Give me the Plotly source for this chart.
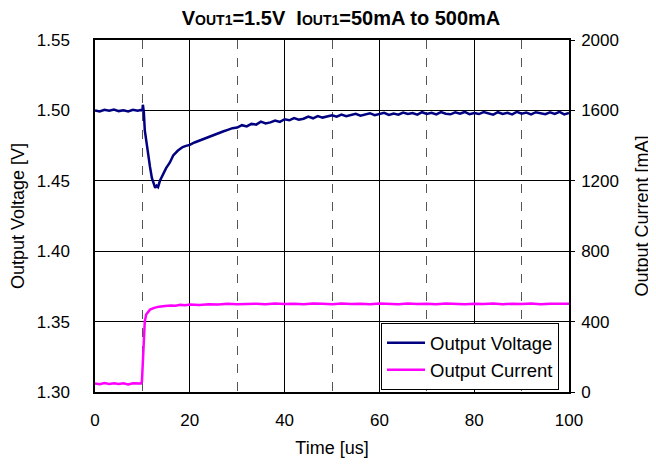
import plotly.graph_objects as go

# ---- data ----
time_v = [0, 1, 2, 3, 4, 5, 6, 7, 8, 9, 9.6, 10.0, 10.1, 10.3, 10.5, 10.8, 11.2, 11.6, 12.0, 12.4, 12.7, 13.0, 13.3,
          13.7, 14.3, 15.0, 15.8, 16.5, 17.5, 18.5, 19.2, 20, 21, 22, 23, 24, 25, 26, 27, 28, 29, 30,
          31, 32, 33, 34, 35, 36, 37, 38, 39, 40, 41, 42, 43, 44, 45, 46, 47, 48, 49, 50,
          51, 52, 53, 54, 55, 56, 57, 58, 59, 60, 61, 62, 63, 64, 65, 66, 67, 68, 69, 70,
          71, 72, 73, 74, 75, 76, 77, 78, 79, 80, 81, 82, 83, 84, 85, 86, 87, 88, 89, 90,
          91, 92, 93, 94, 95, 96, 97, 98, 99, 100]
voltage = [1.5000, 1.4992, 1.5004, 1.4998, 1.5006, 1.4995, 1.5001, 1.4993, 1.5005, 1.4997, 1.5003, 1.5000, 1.5040, 1.4990,
           1.4860, 1.4780, 1.4680, 1.4600, 1.4520, 1.4470, 1.4450, 1.4465, 1.4455,
           1.4500, 1.4540, 1.4590, 1.4630, 1.4680, 1.4715, 1.4740, 1.4748, 1.4755, 1.4772, 1.4785, 1.4800, 1.4815, 1.4828, 1.4842, 1.4850, 1.4862, 1.4874, 1.4878,
           1.4895, 1.4886, 1.4904, 1.4899, 1.4920, 1.4908, 1.4915, 1.4928, 1.4918, 1.4937, 1.4930, 1.4946, 1.4934, 1.4941, 1.4956, 1.4944, 1.4960, 1.4949, 1.4955, 1.4966,
           1.4955, 1.4970, 1.4959, 1.4965, 1.4976, 1.4962, 1.4971, 1.4980, 1.4966, 1.4975, 1.4983, 1.4968, 1.4978, 1.4970, 1.4985, 1.4974, 1.4981, 1.4970, 1.4987, 1.4975,
           1.4983, 1.4971, 1.4988, 1.4976, 1.4972, 1.4986, 1.4977, 1.4989, 1.4973, 1.4982, 1.4974, 1.4988, 1.4978, 1.4970, 1.4987, 1.4975, 1.4983, 1.4972, 1.4989, 1.4976,
           1.4984, 1.4971, 1.4987, 1.4978, 1.4973, 1.4986, 1.4975, 1.4989, 1.4972, 1.4982]

time_i = [0, 1, 2, 3, 4, 5, 6, 7, 8, 9, 9.7, 9.9, 10.1, 10.3, 10.5, 10.8, 11.2, 11.6, 12.5, 13.5, 14.8, 16, 17, 18, 19, 20,
          22, 24, 26, 28, 30, 32, 34, 36, 38, 40, 42, 44, 46, 48, 50, 52, 54, 56, 58, 60,
          62, 64, 66, 68, 70, 72, 74, 76, 78, 80, 82, 84, 86, 88, 90, 92, 94, 96, 98, 100]
current = [48, 44, 51, 46, 50, 45, 49, 43, 50, 47, 49, 60, 200, 330, 400, 440, 458, 468, 478, 485, 489, 492, 490, 495, 493, 497,
           495, 499, 497, 501, 498, 500, 502, 499, 503, 500, 502, 499, 503, 501, 499, 503, 500, 502, 499, 503,
           501, 498, 503, 500, 502, 499, 503, 501, 499, 502, 500, 503, 499, 502, 500, 503, 499, 502, 500, 501]

FONT = "Liberation Sans, Arial, sans-serif"

fig = go.Figure()
fig.add_trace(go.Scatter(x=time_v, y=voltage, mode="lines", name="Output Voltage",
                         line=dict(color="#000080", width=2.5)))
fig.add_trace(go.Scatter(x=time_i, y=current, mode="lines", name="Output Current",
                         line=dict(color="#FF00FF", width=2.5), yaxis="y2"))

W, H = 648, 458
L, R, T, B = 87, 87, 32, 74
fig.update_layout(
    width=W, height=H,
    margin=dict(l=L, r=R, t=T, b=B, autoexpand=False),
    paper_bgcolor="white", plot_bgcolor="white",
    font=dict(family=FONT, size=17, color="black"),
    title=dict(text="V<span style='font-size:14px'>OUT1</span>=1.5V  I<span style='font-size:14px'>OUT1</span>=50mA to 500mA",
               x=333 / W, xanchor="center", y=1 - 10 / H, yanchor="middle",
               font=dict(family=FONT, size=20, color="black", weight="bold")),
    xaxis=dict(range=[0, 100], dtick=20, tick0=0, showgrid=True, gridcolor="black", gridwidth=1,
               showline=True, linecolor="black", linewidth=1.5, mirror=True, ticks="", zeroline=False,
               ticklabelstandoff=12, tickfont=dict(size=17), automargin=False,
               minor=dict(dtick=10, tick0=0, showgrid=True, gridcolor="#555555", griddash="dash", gridwidth=1),
               title=dict(text="Time [us]", standoff=12, font=dict(size=18))),
    yaxis=dict(range=[1.30, 1.55], dtick=0.05, tick0=1.30, tickformat=".2f", showgrid=True,
               gridcolor="black", gridwidth=1, showline=True, linecolor="black", linewidth=1.5, mirror=True,
               ticks="", zeroline=False, ticklabelstandoff=20, tickfont=dict(size=17), automargin=False,
               title=dict(text="Output Voltage [V]", standoff=8, font=dict(size=18))),
    yaxis2=dict(range=[0, 2000], dtick=400, tick0=0, overlaying="y", side="right", showgrid=False,
                showline=True, linecolor="black", linewidth=1.5, ticks="outside", ticklen=4, tickcolor="black",
                zeroline=False, ticklabelstandoff=3, tickfont=dict(size=17), automargin=False,
                title=dict(text="Output Current [mA]", standoff=17, font=dict(size=18))),
    legend=dict(x=(381 - 95) / 474, y=0.005, xanchor="left", yanchor="bottom",
                bgcolor="white", bordercolor="black", borderwidth=1,
                font=dict(family=FONT, size=18.5), tracegroupgap=0, itemwidth=38),
    showlegend=True,
)

fig.write_html("out.html")
